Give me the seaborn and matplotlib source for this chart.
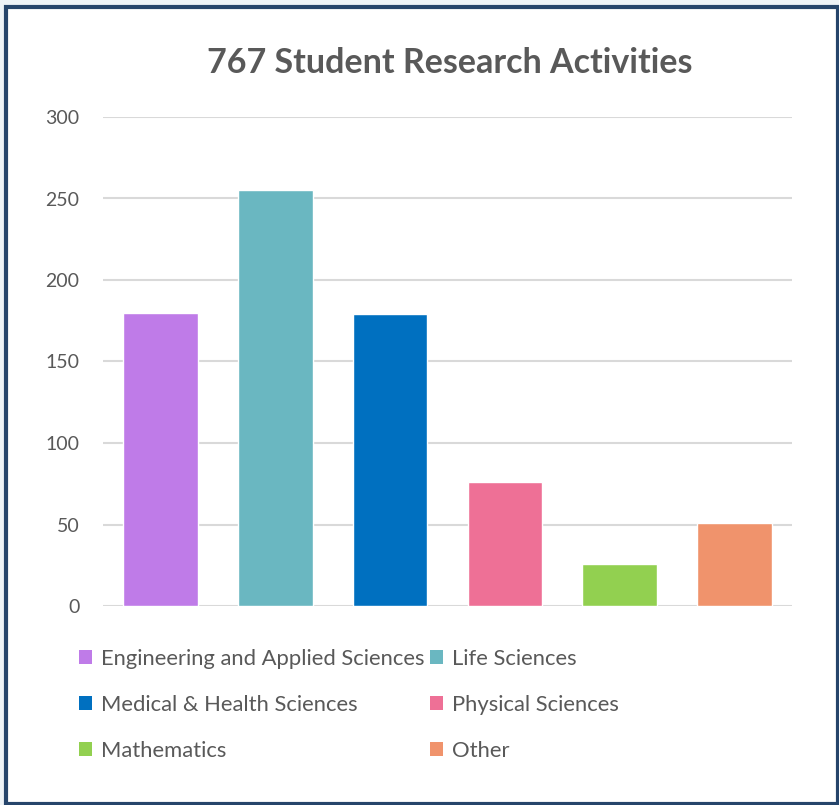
import matplotlib
matplotlib.use("Agg")
import matplotlib.pyplot as plt
import seaborn as sns
import pandas as pd
from matplotlib.patches import Patch, Rectangle

categories = ["Engineering and Applied Sciences", "Life Sciences",
              "Medical & Health Sciences", "Physical Sciences",
              "Mathematics", "Other"]
values = [180, 255, 179, 76, 26, 51]
colors = ["#BF7BE8", "#6AB7C1", "#0070C0", "#EE7096", "#92D050", "#F0936C"]
yticks = [0, 50, 100, 150, 200, 250, 300]
title = "767 Student Research Activities"

sns.set_theme(style="white")
plt.rcParams["font.family"] = ["Lato", "DejaVu Sans"]

W, H = 839, 805
fig = plt.figure(figsize=(W / 100, H / 100), dpi=100, facecolor="#eef3f7")

# chart frame
fig.patches.append(Rectangle((5.5 / W, 1.5 / H), 832 / W, 796 / H,
                             transform=fig.transFigure, facecolor="white",
                             edgecolor="#26456b", linewidth=3.0, zorder=-10))

ax = fig.add_axes([103 / W, (H - 606) / H, (792 - 103) / W, (606 - 117) / H])
ax.set_facecolor("none")
ax.set_zorder(5)

df = pd.DataFrame({"category": categories, "value": values})
sns.barplot(data=df, x="category", y="value", hue="category",
            palette=colors, width=0.65, dodge=False, legend=False,
            saturation=1, ax=ax, zorder=3)

ax.set_xlim(-0.5, 5.5)
ax.set_ylim(0, 300)
ax.set_yticks(yticks)
ax.set_yticklabels([str(t) for t in yticks], color="#595959", fontsize=14)
ax.tick_params(axis="y", length=0, pad=17)
ax.set_xticks([])
ax.set_xlabel("")
ax.set_ylabel("")
for s in ax.spines.values():
    s.set_visible(False)
ax.grid(axis="y", color="#d9d9d9", linewidth=1.5, zorder=0)
ax.set_axisbelow(True)

fig.text(450 / W, 1 - 63 / H, title, ha="center", va="center",
         fontsize=24.5, fontweight="bold", color="#595959")

handles = [Patch(facecolor=c, edgecolor="none") for c in colors]
order = [0, 2, 4, 1, 3, 5]
fig.legend([handles[i] for i in order], [categories[i] for i in order],
           ncol=2, loc="upper left", bbox_to_anchor=(79 / W, 1 - 649 / H),
           frameon=False, fontsize=15.8, handlelength=0.6, handleheight=0.6,
           handletextpad=0.4, columnspacing=0.25, labelspacing=1.18,
           borderpad=0, borderaxespad=0, labelcolor="#595959")

fig.savefig("out.png", dpi=100, facecolor=fig.get_facecolor())
